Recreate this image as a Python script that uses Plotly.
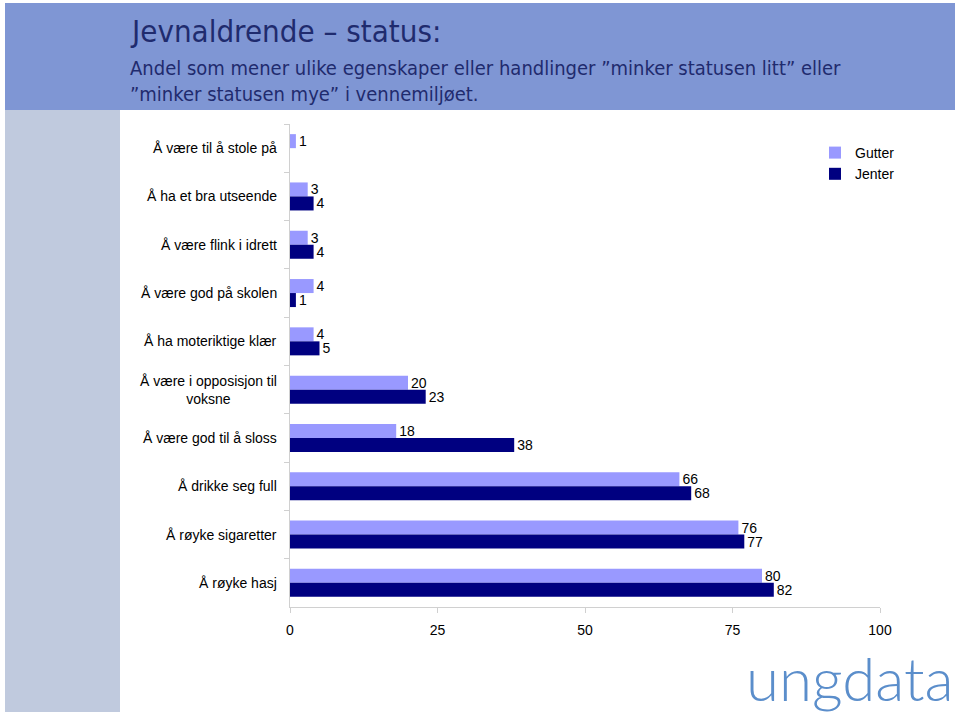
import plotly.graph_objects as go

categories = [
    "Å være til å stole på",
    "Å ha et bra utseende",
    "Å være flink i idrett",
    "Å være god på skolen",
    "Å ha moteriktige klær",
    "Å være i opposisjon til<br>voksne",
    "Å være god til å sloss",
    "Å drikke seg full",
    "Å røyke sigaretter",
    "Å røyke hasj",
]
gutter = [1, 3, 3, 4, 4, 20, 18, 66, 76, 80]
jenter = [None, 4, 4, 1, 5, 23, 38, 68, 77, 82]
x_ticks = [0, 25, 50, 75, 100]

# plot area in pixels
L, R, T, B = 290, 880, 124, 607
W, H = 960, 716


def px(p):
    return (p - L) / (R - L)


def py(q):
    return (B - q) / (B - T)


FONT = "Liberation Sans, Arial, sans-serif"
TFONT = "DejaVu Sans Condensed, Liberation Sans Narrow, sans-serif"

fig = go.Figure()
fig.add_trace(go.Bar(
    y=categories, x=gutter, name="Gutter", orientation="h",
    marker=dict(color="#9999ff", line=dict(width=0)),
    text=gutter, textposition="outside", cliponaxis=False, constraintext="none",
    textfont=dict(size=14, color="#000000", family=FONT),
))
fig.add_trace(go.Bar(
    y=categories, x=jenter, name="Jenter", orientation="h",
    marker=dict(color="#000080", line=dict(width=0)),
    text=jenter, textposition="outside", cliponaxis=False, constraintext="none",
    textfont=dict(size=14, color="#000000", family=FONT),
))

shapes = [
    dict(type="rect", xref="paper", yref="paper", x0=px(5), x1=px(955),
         y0=py(3), y1=py(110), fillcolor="#7f96d4", line=dict(width=0), layer="below"),
    dict(type="rect", xref="paper", yref="paper", x0=px(5), x1=px(120),
         y0=py(110), y1=py(712), fillcolor="#c0cade", line=dict(width=0), layer="below"),
]

annotations = [
    dict(text="Jevnaldrende – status:", xref="paper", yref="paper",
         x=px(128), y=py(31), xanchor="left", yanchor="middle", showarrow=False,
         font=dict(size=31, color="#1f2b6e", family=TFONT)),
    dict(text="Andel som mener ulike egenskaper eller handlinger ”minker statusen litt” eller<br>”minker statusen mye” i vennemiljøet.",
         xref="paper", yref="paper", x=px(128), y=py(81), xanchor="left", yanchor="middle",
         align="left", showarrow=False,
         font=dict(size=20, color="#1f2b6e", family=TFONT)),
    dict(text="ungdata", xref="paper", yref="paper", x=px(956), y=py(678),
         xanchor="right", yanchor="middle", showarrow=False,
         font=dict(size=60, color="#5b8ecb", family="Lato, sans-serif", weight=300)),
]
for c in categories:
    annotations.append(dict(
        text=c, xref="paper", yref="y", x=px(279), y=c, xanchor="right",
        yanchor="middle", align="center", showarrow=False,
        font=dict(size=14, color="#000000", family=FONT),
    ))

fig.update_layout(
    width=W, height=H,
    margin=dict(l=L, r=W - R, t=T, b=H - B, pad=0),
    paper_bgcolor="#ffffff", plot_bgcolor="#ffffff",
    barmode="group", bargap=0.42, bargroupgap=0,
    font=dict(family=FONT, size=14, color="#000000"),
    shapes=shapes, annotations=annotations,
    legend=dict(x=px(815), y=py(137), xanchor="left", yanchor="top",
                bgcolor="rgba(0,0,0,0)", font=dict(size=14, family=FONT),
                itemwidth=30, tracegroupgap=0),
    xaxis=dict(range=[0, 100], tickvals=x_ticks, showgrid=False, zeroline=False,
               showline=True, linecolor="#d0d0d0", linewidth=1,
               ticks="outside", ticklen=5, tickcolor="#d0d0d0",
               ticklabelstandoff=5,
               tickfont=dict(size=14, family=FONT), fixedrange=True),
    yaxis=dict(type="category", autorange="reversed", showgrid=False,
               showline=True, linecolor="#d0d0d0", linewidth=1,
               ticks="outside", ticklen=5, tickcolor="#d0d0d0",
               tickson="boundaries", showticklabels=False, fixedrange=True),
    showlegend=True,
)

fig.write_html("out.html", config={"displayModeBar": False},
               post_script="document.body.style.margin='0';document.body.style.overflow='hidden';")
